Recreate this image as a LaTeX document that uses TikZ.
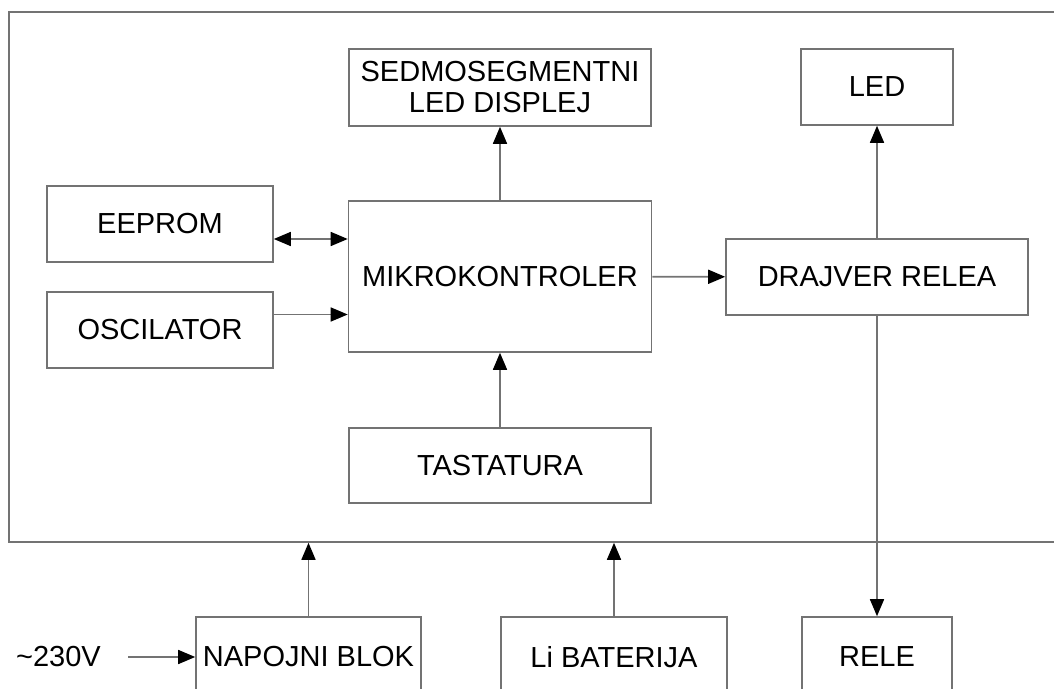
\documentclass[tikz,border=0pt]{standalone}
\usepackage{fontspec}
\setmainfont{Liberation Sans}
\usetikzlibrary{arrows.meta}
\begin{document}
\begin{tikzpicture}[x=0.5pt,y=-0.5pt,line width=0.8pt,
  blok/.style={draw=black!55,inner sep=0pt,align=center},
  veza/.style={draw=black!55},
  >={Triangle[length=8.5pt,width=7pt,color=black]},
  every node/.style={font=\fontsize{14.5}{15.5}\selectfont}]
 \clip (0,0) rectangle (1054,689);
 \node[blok,minimum width=530.5pt,minimum height=265pt] (sys) at (539.5,277) {};
 \node[blok,minimum width=151pt,minimum height=38.5pt] (disp) at (500,87.5) {SEDMOSEGMENTNI\\LED DISPLEJ};
 \node[blok,minimum width=151.5pt,minimum height=75.5pt] (mcu) at (500,276.5) {MIKROKONTROLER};
 \node[blok,minimum width=113pt,minimum height=38pt] (eeprom) at (160,224) {EEPROM};
 \node[blok,minimum width=113pt,minimum height=38pt] (osc) at (160,330) {OSCILATOR};
 \node[blok,minimum width=151pt,minimum height=37.5pt] (tast) at (500,465.5) {TASTATURA};
 \node[blok,minimum width=76pt,minimum height=38pt] (led) at (877,87) {LED};
 \node[blok,minimum width=151pt,minimum height=38pt] (drv) at (877,277) {DRAJVER RELEA};
 \node[blok,minimum width=112.5pt,minimum height=40pt] (napoj) at (308.5,657) {NAPOJNI BLOK};
 \node[blok,minimum width=113pt,minimum height=40pt] (bat) at (614,657) {Li BATERIJA};
 \node[blok,minimum width=75pt,minimum height=40pt] (rele) at (877,657) {RELE};
 \node (mreza) at (58.5,657) {\textasciitilde230V};
 \coordinate (ulaz1) at ([yshift=18.75pt]mcu.west);
 \coordinate (ulaz2) at ([yshift=-19pt]mcu.west);
 % veze
 \draw[veza,->] (mcu) -- (disp);
 \draw[veza,<->] (ulaz1 -| eeprom.east) -- (ulaz1);
 \draw[veza,->] (ulaz2 -| osc.east) -- (ulaz2);
 \draw[veza,->] (tast) -- (mcu);
 \draw[veza,->] (mcu) -- (drv);
 \draw[veza,->] (drv) -- (led);
 \draw[veza,->] (drv) -- (rele);
 \draw[veza,->] (napoj.north) -- (napoj.north |- sys.south);
 \draw[veza,->] (bat.north) -- (bat.north |- sys.south);
 \draw[veza,->,shorten <=10pt] (mreza.east) -- (napoj.west);
\end{tikzpicture}
\end{document}
